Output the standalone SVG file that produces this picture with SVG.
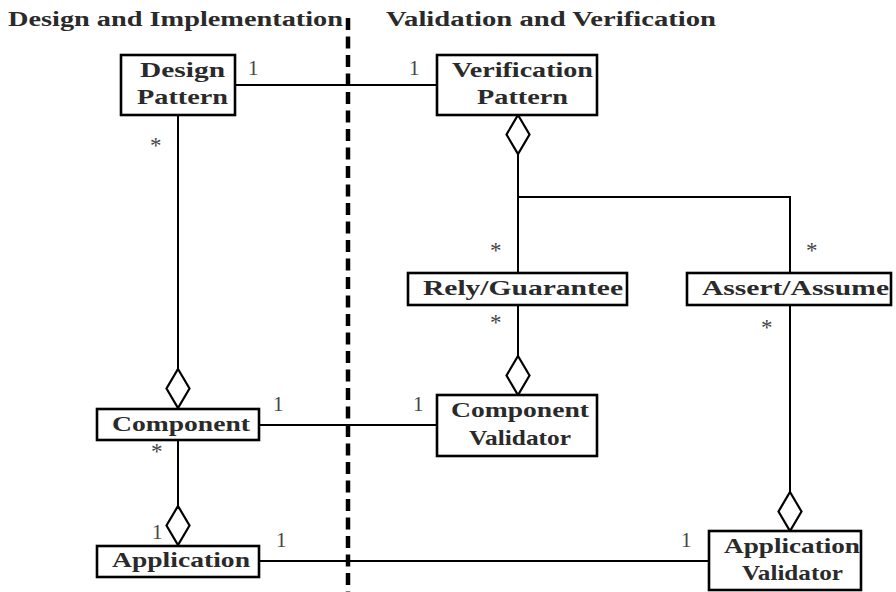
<svg xmlns="http://www.w3.org/2000/svg" width="896" height="592" viewBox="0 0 896 592">
  <defs>
    <style>
      .box { fill: #fff; stroke: #000; stroke-width: 2.6; }
      .lbl { font-family: "Liberation Serif", "Times New Roman", serif; font-weight: bold; font-size: 22px; fill: #2a2a2a; }
      .head { font-family: "Liberation Serif", "Times New Roman", serif; font-weight: bold; font-size: 20px; fill: #2a2a2a; }
      .mult { font-family: "Liberation Serif", "Times New Roman", serif; font-size: 21px; fill: #444; }
      .star { font-family: "Liberation Serif", "Times New Roman", serif; font-size: 23px; fill: #444; }
      .edge { fill: none; stroke: #000; stroke-width: 2; }
      .agg { fill: #fff; stroke: #000; stroke-width: 2.2; stroke-linejoin: miter; }
      .divider { fill: none; stroke: #000; stroke-width: 4.5; stroke-dasharray: 12 6.5; }
    </style>
    <!-- hollow aggregation diamond, tip at origin pointing up -->
    <path id="diamond" d="M0,0 L11.5,19.5 L0,39 L-11.5,19.5 Z" class="agg"/>
  </defs>

  <rect width="896" height="592" fill="#fff"/>

  <!-- column headings and divider -->
  <text class="head" x="8" y="26" textLength="335" lengthAdjust="spacingAndGlyphs">Design and Implementation</text>
  <text class="head" x="386" y="26" textLength="330" lengthAdjust="spacingAndGlyphs">Validation and Verification</text>

  <!-- connectors -->
  <g id="connectors">
    <line class="edge" x1="235" y1="85" x2="437" y2="85"/>
    <line class="edge" x1="178" y1="115" x2="178" y2="369"/>
    <line class="edge" x1="178" y1="440" x2="178" y2="506"/>
    <line class="edge" x1="259" y1="425" x2="437" y2="425"/>
    <line class="edge" x1="259" y1="561" x2="709" y2="561"/>
    <polyline class="edge" points="518,154 518,273"/>
    <polyline class="edge" points="518,197 790,197 790,273"/>
    <line class="edge" x1="518" y1="305" x2="518" y2="356"/>
    <line class="edge" x1="790" y1="305" x2="790" y2="492"/>

    <use href="#diamond" x="518" y="115"/>
    <use href="#diamond" x="178" y="369"/>
    <use href="#diamond" x="178" y="506"/>
    <use href="#diamond" x="518" y="356"/>
    <use href="#diamond" x="790" y="492"/>

    <!-- multiplicities -->
    <text class="mult" x="248" y="75">1</text>
    <text class="mult" x="409" y="75">1</text>
    <text class="star" x="150" y="153">*</text>
    <text class="star" x="490" y="258">*</text>
    <text class="star" x="806" y="258">*</text>
    <text class="star" x="490" y="330">*</text>
    <text class="star" x="761" y="335">*</text>
    <text class="mult" x="273" y="411">1</text>
    <text class="mult" x="413" y="411">1</text>
    <text class="star" x="151" y="459">*</text>
    <text class="mult" x="152" y="539">1</text>
    <text class="mult" x="276" y="547">1</text>
    <text class="mult" x="681" y="547">1</text>
  </g>

  <line class="divider" x1="348" y1="18" x2="348" y2="592"/>

  <!-- nodes -->
  <g id="design-pattern">
    <rect class="box" x="121" y="55" width="114" height="60"/>
    <text class="lbl" x="140" y="77" textLength="85" lengthAdjust="spacingAndGlyphs">Design</text>
    <text class="lbl" x="137" y="104" textLength="91" lengthAdjust="spacingAndGlyphs">Pattern</text>
  </g>
  <g id="verification-pattern">
    <rect class="box" x="437" y="55" width="160" height="60"/>
    <text class="lbl" x="452" y="77" textLength="141" lengthAdjust="spacingAndGlyphs">Verification</text>
    <text class="lbl" x="477" y="104" textLength="91" lengthAdjust="spacingAndGlyphs">Pattern</text>
  </g>
  <g id="rely-guarantee">
    <rect class="box" x="408" y="273" width="219" height="32"/>
    <text class="lbl" x="423" y="295" textLength="200" lengthAdjust="spacingAndGlyphs">Rely/Guarantee</text>
  </g>
  <g id="assert-assume">
    <rect class="box" x="687" y="273" width="204" height="32"/>
    <text class="lbl" x="702" y="295" textLength="187" lengthAdjust="spacingAndGlyphs">Assert/Assume</text>
  </g>
  <g id="component">
    <rect class="box" x="97" y="409" width="162" height="31"/>
    <text class="lbl" x="112" y="431" textLength="138" lengthAdjust="spacingAndGlyphs">Component</text>
  </g>
  <g id="component-validator">
    <rect class="box" x="437" y="395" width="160" height="61"/>
    <text class="lbl" x="451" y="417" textLength="138" lengthAdjust="spacingAndGlyphs">Component</text>
    <text class="lbl" x="469" y="445" textLength="102" lengthAdjust="spacingAndGlyphs">Validator</text>
  </g>
  <g id="application">
    <rect class="box" x="97" y="546" width="162" height="31"/>
    <text class="lbl" x="112" y="567" textLength="138" lengthAdjust="spacingAndGlyphs">Application</text>
  </g>
  <g id="application-validator">
    <rect class="box" x="709" y="531" width="152" height="59"/>
    <text class="lbl" x="724" y="553" textLength="136" lengthAdjust="spacingAndGlyphs">Application</text>
    <text class="lbl" x="742" y="580" textLength="101" lengthAdjust="spacingAndGlyphs">Validator</text>
  </g>
</svg>
